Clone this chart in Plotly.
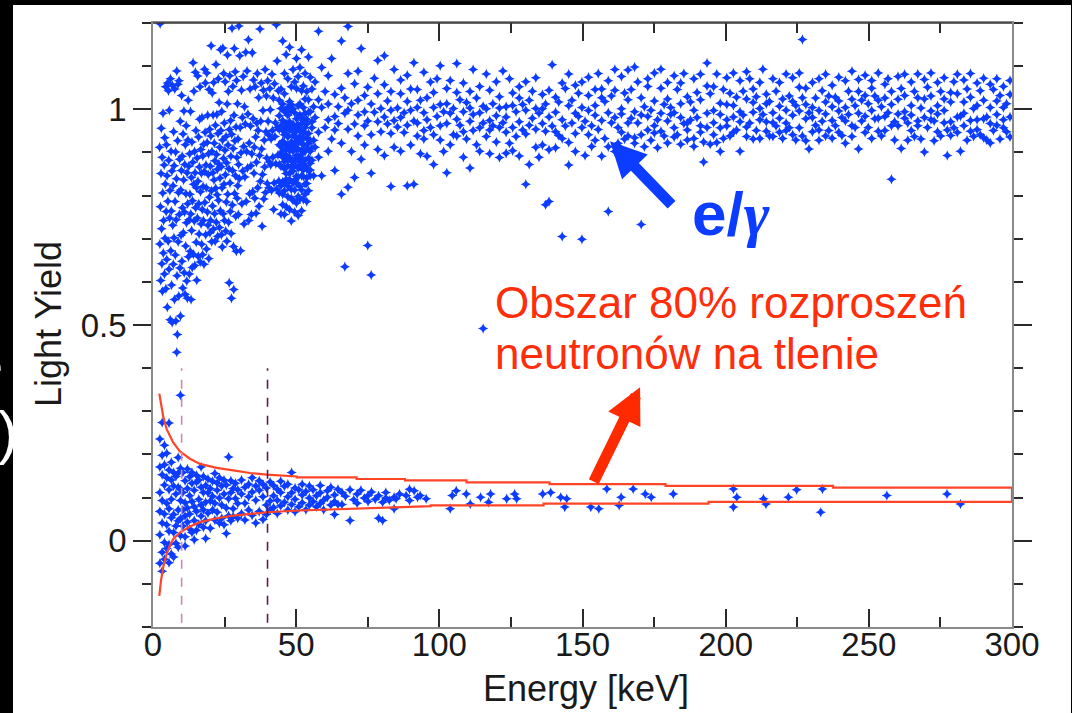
import plotly.graph_objects as go

# ---------------- data ----------------
# e/gamma events below 44 keV: (energy keV, light yield)
eg_low_pts = [
    (2.3, .912), (2.4, .688), (2.5, 1.198), (2.6, .774), (2.7, .603), (2.8, .851), (2.9, .956),
    (3.0, .723), (3.1, .642), (3.2, .889), (3.3, .578), (3.4, .806), (3.5, .991), (3.6, .667),
    (3.7, .742), (3.9, .871), (4.0, .618), (4.1, .934), (4.2, .701), (4.3, .827), (4.4, 1.052),
    (4.5, .584), (4.6, .763), (4.7, .918), (4.8, .652), (4.9, .846), (5.0, .541), (5.1, 1.061),
    (5.2, .787), (5.3, .694), (5.4, 1.043), (5.5, .882), (5.6, .629), (5.7, .998), (5.8, .748),
    (5.9, .812), (6.0, .512), (6.1, 1.071), (6.2, .672), (6.3, .903), (6.4, .764), (6.5, .593),
    (6.6, .857), (6.7, .506), (6.8, 1.055), (6.9, .731), (7.0, .823), (7.1, .641), (7.2, .948),
    (7.3, .702), (7.4, .869), (7.5, .559), (7.6, 1.047), (7.7, .786), (7.8, .662), (7.9, .901),
    (8.0, .509), (8.1, .744), (8.2, .839), (8.3, 1.089), (8.4, .614), (8.5, .478), (8.6, .927),
    (8.7, 1.058), (8.8, .693), (8.9, .807), (9.0, .567), (9.1, 1.066), (9.2, .756), (9.3, .884),
    (9.4, .632), (9.5, .972), (9.6, .521), (9.7, .813), (9.8, .708), (9.9, .858),
    (10.0, 1.032), (10.1, .648), (10.2, .891), (10.3, .772), (10.4, .586), (10.5, .943),
    (10.6, .714), (10.7, .836), (10.8, .996), (10.9, .621), (11.0, .762), (11.1, .872),
    (11.2, .571), (11.3, .918), (11.4, .683), (11.5, .804), (11.6, .962), (11.7, .737),
    (11.8, .602), (11.9, .853), (12.0, .562), (12.1, .781), (12.2, .929), (12.3, 1.021),
    (12.4, .658), (12.5, .868), (12.6, .744), (12.7, .618), (12.8, .897), (12.9, .803),
    (13.0, .671), (13.1, .995), (13.2, .757), (13.3, .559), (13.4, .842), (13.5, .719),
    (13.6, .924), (13.7, .633), (13.8, .788), (13.9, .877), (14.0, 1.108), (14.1, .664),
    (14.2, .826), (14.3, 1.042), (14.4, .741), (14.5, .902), (14.6, .638), (14.7, .853),
    (14.8, 1.086), (14.9, .772), (15.0, .951), (15.1, .692), (15.2, .818), (15.3, .604),
    (15.4, .887), (15.5, .748), (15.6, 1.077), (15.7, .833), (15.8, .659), (15.9, .936),
    (16.0, .781), (16.1, .711), (16.2, .866), (16.3, .977), (16.4, 1.052), (16.5, .646),
    (16.6, .809), (16.7, .907), (16.8, .734), (16.9, .852), (17.0, .687), (17.1, .981),
    (17.2, .768), (17.3, .663), (17.4, .892), (17.5, .821), (17.6, .742), (17.7, .919),
    (17.8, .641), (17.9, .856), (18.0, 1.093), (18.1, .784), (18.2, .947), (18.3, 1.061),
    (18.4, .709), (18.5, .871), (18.6, .818), (18.7, .676), (18.8, 1.084), (18.9, .923),
    (19.0, .762), (19.1, .986), (19.2, .731), (19.3, .849), (19.4, .897), (19.5, .654),
    (19.6, 1.046), (19.7, .796), (19.8, .954), (19.9, .714),
    (20.0, .868), (20.1, .743), (20.2, .938), (20.3, 1.147), (20.4, .811), (20.5, .693),
    (20.6, .902), (20.7, 1.038), (20.8, .776), (20.9, .853), (21.0, .987), (21.1, .722),
    (21.2, 1.062), (21.3, .836), (21.4, .921), (21.5, .758), (21.6, .881), (21.7, .694),
    (21.8, .963), (21.9, .817), (22.0, 1.104), (22.1, .738), (22.2, .895), (22.3, .988),
    (22.4, .802), (22.5, .861), (22.6, .706), (22.7, .944), (22.8, 1.071), (22.9, .789),
    (23.0, .873), (23.1, 1.016), (23.2, .726), (23.3, .912), (23.4, .841), (23.5, .765),
    (23.6, 1.138), (23.7, .951), (23.8, .867), (23.9, .709), (24.0, .995), (24.1, .818),
    (24.2, .681), (24.3, .929), (24.4, 1.142), (24.5, .758), (24.6, .886), (24.7, 1.083),
    (24.8, .826), (24.9, .968), (25.0, .742), (25.1, .905), (25.2, 1.064), (25.3, .848),
    (25.4, .718), (25.5, .937), (25.6, .785), (25.7, .876), (25.8, .694), (25.9, 1.012),
    (26.0, 1.126), (26.1, .803), (26.2, .917), (26.3, 1.041), (26.4, .738), (26.5, .862),
    (26.6, .598), (26.7, .953), (26.8, 1.078), (26.9, .829), (27.0, .763), (27.1, .974),
    (27.2, .891), (27.3, .712), (27.4, .562), (27.5, .942), (27.6, 1.188), (27.7, .778),
    (27.8, .858), (27.9, 1.053), (28.0, .909), (28.1, .682), (28.2, .582), (28.3, .986),
    (28.4, 1.141), (28.5, .805), (28.6, .927), (28.7, 1.087), (28.8, .846), (28.9, .752),
    (29.0, .959), (29.1, .671), (29.2, 1.067), (29.3, .888), (29.4, .794), (29.5, 1.013),
    (29.6, .823), (29.7, .931), (29.8, .756), (29.9, .872),
    (30.0, 1.193), (30.15, .839), (30.3, 1.124), (30.45, .958), (30.6, .672), (30.75, .899),
    (30.9, 1.044), (31.05, .781), (31.2, .981), (31.35, .857), (31.5, 1.076), (31.65, .914),
    (31.8, .734), (31.95, 1.006), (32.1, .843), (32.25, .966), (32.4, 1.132), (32.55, .786),
    (32.7, .902), (32.85, 1.089), (33.0, .864), (33.15, .989), (33.3, 1.161), (33.45, .742),
    (33.6, .922), (33.75, .804), (33.9, 1.047), (34.05, .961), (34.2, .869), (34.35, .756),
    (34.5, .897), (34.65, 1.131), (34.8, .809), (34.95, .978), (35.1, 1.068), (35.25, .852),
    (35.4, .912), (35.55, .794), (35.7, 1.052), (35.85, .936), (36.0, .759), (36.15, .877),
    (36.3, .968), (36.45, 1.083), (36.6, .818), (36.75, .951), (36.9, 1.027), (37.05, .775),
    (37.2, .893), (37.35, 1.186), (37.5, .833), (37.65, .972), (37.8, 1.061), (37.95, .908),
    (38.1, .729), (38.25, .849), (38.4, .997), (38.55, 1.044), (38.7, .792), (38.85, .928),
    (39.0, .866), (39.15, 1.092), (39.3, .807), (39.45, .948), (39.6, 1.031), (39.75, .887),
    (39.9, .828), (40.05, 1.066), (40.2, .972), (40.35, .941), (40.5, .818), (40.65, .878),
    (40.8, 1.048), (40.95, .999), (41.1, .871), (41.25, .931), (41.4, .812), (41.55, 1.081),
    (41.7, .951), (41.85, .889), (42.0, 1.026), (42.15, .768), (42.3, .829), (42.45, 1.059),
    (42.6, .937), (42.75, .969), (42.9, .874), (43.05, 1.196), (43.2, .815), (43.35, 1.112),
    (43.5, .958), (43.65, .894), (43.8, 1.043), (43.95, .834),
]

# the dense e/gamma cluster around 50 keV: (energy keV, [light yields])
eg_peak = [
    (44.1, [.953, .872, 1.021, .918, .806, .985]),
    (44.7, [.897, 1.047, .823, .962, .868, 1.002, .757, .914]),
    (45.3, [.926, 1.158, .803, .951, .889, 1.012, .832, .903, .974, .779]),
    (45.9, [.862, .941, 1.083, .811, .996, .879, .921, .756, .957, 1.036]),
    (46.5, [.828, .908, .967, .851, 1.127, .894, .774, .943, .992, .838]),
    (47.1, [.915, 1.005, .869, .797, .958, 1.071, .884, .822, .936, .986]),
    (47.7, [.851, .911, 1.144, .768, .971, .889, 1.018, .837, .952, .904]),
    (48.3, [.741, .996, .866, .924, 1.052, .814, .958, .882, 1.011, .794]),
    (48.9, [.939, .857, 1.092, .903, .829, .966, .877, 1.001, .789, .918]),
    (49.5, [.946, .836, 1.063, .884, .958, .813, .923, .992, .762, .871]),
    (50.1, [.911, 1.118, .845, .978, .829, .951, .893, 1.048, .783, .934]),
    (50.7, [.864, 1.008, .924, .798, .964, .882, 1.076, .843, .907, .754]),
    (51.3, [.987, .867, .938, 1.012, .821, .953, .889, 1.097, .792, .926]),
    (51.9, [.874, .981, .846, 1.043, .905, .813, .967, .896, 1.138, .765]),
    (52.5, [.932, .859, 1.004, .918, .844, .974, .881, .791, 1.054, .946]),
    (53.1, [.902, .827, .991, .869, .946, 1.083, .803, .958, .882, 1.024]),
    (53.7, [.841, .933, .786, .977, .862, 1.041, .909, .828, .966]),
    (54.3, [.921, 1.121, .858, .993, .811, .944, .887, 1.022]),
    (54.9, [.903, .846, 1.074, .928, .875, .994, .859]),
    (55.5, [.882, .957, 1.047, .911, .971]),
    (56.1, [.928, 1.006, .846]),
]

# e/gamma band above 56 keV: (energy keV, [light yields])
eg_band = [
    (56.6, [.981, 1.063, .912]), (57.8, [1.181, .947, 1.022, .889]),
    (58.9, [1.004, .846, 1.097]), (60.1, [.958, 1.041]),
    (61.2, [1.012, .903, .976, 1.078]), (62.4, [.931, 1.118]),
    (63.5, [1.034, .983, .858, .952]), (64.7, [.967, 1.006]),
    (65.8, [1.158, .803, .921, 1.049]), (67.0, [.991, .635, 1.027]),
    (68.1, [1.192, .954, .819, 1.083, .998]), (69.3, [.902, 1.013]),
    (70.4, [1.059, .966, .842]), (71.6, [.987, 1.088, .938, 1.021]),
    (72.7, [1.141, .884]), (73.9, [.962, 1.032, .917, .994]),
    (75.0, [1.051, .684, .973]), (76.2, [.852, 1.012, .616, .941]),
    (77.3, [1.072, .993]), (78.5, [.907, 1.113, .971, 1.036]),
    (79.6, [.948, 1.002]), (80.8, [1.124, .893, .982, 1.057]),
    (81.9, [.966, 1.019]), (83.1, [.821, 1.041, .944, .998]),
    (84.2, [.974, 1.092, .912]), (85.4, [1.003, .959]),
    (86.5, [.903, 1.036, .981, 1.068]), (87.7, [.946, .992]),
    (88.8, [.823, 1.018, .963, 1.079]), (90.0, [.917, .998, 1.047]),
    (91.1, [1.108, .826, .973]), (92.3, [1.004, .938, 1.046, .968]),
    (93.4, [.897, 1.021]), (94.6, [.951, 1.086, .992, .931]),
    (95.7, [1.027, .891, .976]), (96.9, [.958, 1.063]),
    (98.0, [.872, 1.004, .941, 1.039]), (99.2, [.983, 1.071]),
    (100.3, [1.101, .929, 1.011, .962]), (101.5, [.902, .994]),
    (102.6, [.853, 1.048, .967, 1.013]), (103.8, [.918, 1.067, .991]),
    (104.9, [.941, 1.002]), (106.1, [1.106, .977, .938, 1.039]),
    (107.2, [.963, 1.022]), (108.4, [.889, .994, 1.061, .948]),
    (109.5, [1.016, .931]), (110.7, [.864, 1.041, .972, 1.003]),
    (111.8, [1.092, .951, .988]), (113.0, [.918, 1.026]),
    (114.1, [.957, 1.053, .992, .903]), (115.3, [.492, 1.007, .968]),
    (116.4, [1.082, .937, 1.001]), (117.6, [.974, .897, 1.044, .952]),
    (118.7, [1.013, .962]), (119.9, [.924, 1.064, .985]),
    (121.0, [1.029, .888, .958, 1.003]), (122.2, [.969, 1.089]),
    (123.3, [.947, 1.006, .898, .982]), (124.5, [1.071, .921]),
    (125.6, [.958, 1.009, .904, 1.038]), (126.8, [.994, .937]),
    (127.9, [1.026, .892, .971, 1.052]), (129.1, [.952, 1.011]),
    (130.2, [.826, .998, 1.064, .943]), (131.4, [1.021, .872, .963]),
    (132.5, [.979, 1.042]), (133.7, [.912, 1.002, .954, 1.073]),
    (134.8, [.991, .889]), (136.0, [1.034, .967, .917, 1.001]),
    (137.1, [.779, .949, 1.012]), (138.3, [.906, .786, 1.044, .982]),
    (139.4, [1.103, .961]), (140.6, [.993, 1.028, .911, .948]),
    (141.7, [1.017, .939]), (142.9, [.705, .976, 1.061, .932]),
    (144.0, [.961, 1.048]), (145.2, [.871, 1.008, .923, 1.082]),
    (146.3, [.968, 1.021]), (147.5, [.944, 1.056, .991, .902]),
    (148.6, [1.037, .983]), (149.8, [.699, .958, 1.063, 1.004]),
    (150.9, [.893, .972]), (152.1, [1.074, .941, .997, 1.032]),
    (153.2, [.914, .962]), (154.4, [1.009, .928, 1.046, .986]),
    (155.5, [.953, 1.083]), (156.7, [.891, 1.027, .974, 1.047]),
    (157.8, [.932, 1.018]), (159.0, [.763, .992, 1.066, .913]),
    (160.1, [.969, 1.031]), (161.3, [1.092, .902, .981, 1.044]),
    (162.4, [.958, .921]), (163.6, [1.001, 1.076, .947, .989]),
    (164.7, [.931, 1.038]), (165.9, [.968, 1.091, 1.022, .938]),
    (167.0, [1.046, .979]), (168.2, [.934, 1.098, .994, .921]),
    (169.3, [1.063, .968]), (170.5, [.941, .733, 1.027, .987]),
    (171.6, [1.006, .913]), (172.8, [.952, 1.053, .983, 1.071]),
    (173.9, [.928, .998]), (175.1, [1.084, .962, 1.019, .945]),
    (176.2, [.911, .976]), (177.4, [1.049, .991, 1.093, .949]),
    (178.5, [1.011, .938]), (179.7, [.973, 1.062, .922, 1.024]),
    (180.8, [.988, 1.004]), (182.0, [.957, 1.078, .936, .992]),
    (183.1, [1.046, .941]), (184.3, [.981, 1.061, .919, 1.013]),
    (185.4, [.967, 1.083]), (186.6, [.929, .968, 1.029, .952]),
    (187.7, [1.017, .975]), (188.9, [.932, 1.071, .998, .914]),
    (190.0, [1.039, .981]), (191.2, [.947, 1.081, 1.022, .962]),
    (192.3, [.878, .924]), (193.5, [1.054, .991, .958, 1.107]),
    (194.6, [1.036, .919]), (195.8, [.997, .941, 1.052, .969]),
    (196.9, [.923, 1.082]), (198.1, [1.014, .957, .902, .988]),
    (199.2, [1.046, .932]), (200.4, [1.073, .961, 1.011, .976]),
    (201.5, [1.037, .938]), (202.7, [.982, 1.084, .947, 1.009]),
    (203.8, [1.028, .952]), (205.0, [.971, 1.066, .903, .994]),
    (206.1, [1.042, .987]), (207.3, [.937, 1.087, 1.024, .959]),
    (208.4, [1.071, .968]), (209.6, [1.016, .931, .993, 1.047]),
    (210.7, [.951, 1.029]), (211.9, [1.062, .976, .932, 1.002]),
    (213.0, [.988, 1.093]), (214.2, [.949, 1.035, .971, 1.013]),
    (215.3, [.938, 1.018]), (216.5, [.969, 1.071, .992, .937]),
    (217.6, [1.042, .961]), (218.8, [1.007, .947, 1.062, .979]),
    (219.9, [1.024, .932]), (221.1, [.968, 1.082, .998, .951]),
    (222.2, [1.031, .957]), (223.4, [.941, 1.073, 1.018, .986]),
    (224.5, [.929, 1.009]), (225.7, [1.051, .957, .996, 1.084]),
    (226.8, [1.162, .938, 1.027]), (228.0, [.978, .927, 1.049, 1.011]),
    (229.1, [.908, .992]), (230.3, [1.062, 1.004, .948, .981]),
    (231.4, [1.026, .963]), (232.6, [.928, 1.071, .997, .952]),
    (233.7, [1.043, .972]), (234.9, [1.017, .938, 1.081, .989]),
    (236.0, [.951, 1.031]), (237.2, [.974, 1.056, .933, 1.006]),
    (238.3, [1.028, .962]), (239.5, [.947, .996, 1.074, 1.019]),
    (240.6, [.939, .981]), (241.8, [1.066, .921, 1.004, .973]),
    (242.9, [1.042, .988]), (244.1, [.937, 1.088, .962, 1.023]),
    (245.2, [1.008, .958]), (246.4, [.908, 1.041, .991, 1.069]),
    (247.5, [.973, 1.021]), (248.7, [.946, 1.079, .984, 1.032]),
    (249.8, [1.013, .958]), (251.0, [.932, 1.049, .997, 1.067]),
    (252.1, [.978, 1.031]), (253.3, [1.084, .949, 1.021, .979]),
    (254.4, [.938, 1.006]), (255.6, [1.058, .983, .951, 1.026]),
    (256.7, [.992, 1.071]), (257.9, [.838, 1.011, .962, 1.041]),
    (259.0, [.929, .971]), (260.2, [1.023, 1.076, .962, .989]),
    (261.3, [.909, 1.048]), (262.5, [.979, 1.032, .994, 1.081]),
    (263.6, [.928, .968]), (264.8, [1.009, 1.063, .951, .987]),
    (265.9, [1.041, .937]), (267.1, [.973, 1.082, 1.027, .962]),
    (268.2, [.931, 1.003]), (269.4, [.901, 1.069, .981, 1.024]),
    (270.5, [.958, 1.051]), (271.7, [.996, .976, 1.084, 1.031]),
    (272.8, [.927, .973]), (274.0, [1.062, 1.008, .948, .989]),
    (275.1, [1.041, .938]), (276.3, [.969, 1.024, 1.073, .997]),
    (277.4, [.893, .952]), (278.6, [1.017, .971, 1.039, .939]),
    (279.7, [1.064, .957]), (280.9, [.982, 1.036, .946, 1.081]),
    (282.0, [.903, .984]), (283.2, [1.017, .962, 1.068, .991]),
    (284.3, [.928, 1.047]), (285.5, [.974, 1.083, 1.028, .949]),
    (286.6, [.937, 1.002]), (287.8, [1.061, .953, 1.009, .976]),
    (288.9, [.941, 1.043]), (290.1, [.978, 1.021, 1.072, .934]),
    (291.2, [.929, .982]), (292.4, [1.058, .922, 1.004, .967]),
    (293.5, [1.046, .951]), (294.7, [.963, 1.019, 1.071, .988]),
    (295.8, [.931, 1.032]), (297.0, [.957, 1.053, 1.004, .976]),
    (298.1, [.948, 1.013]), (299.3, [.936, 1.034, .982, 1.067]),
]

# neutron (oxygen recoil) events: (energy keV, [light yields])
n_dense = [
    (2.4, [.236, .112, .014, -.052, .171, .068]),
    (3.2, [.274, .093, -.027, .153, .041, -.071, .198]),
    (4.0, [.129, -.004, .221, .062, -.043, .176]),
    (4.8, [.087, .146, -.018, .037, .203]),
    (5.6, [.273, .022, .118, -.051, .164, .074, -.009]),
    (6.4, [.141, .053, -.031, .096, .182]),
    (7.2, [.019, .127, .061, -.038, .158]),
    (8.0, [.108, .034, .149, -.006]),
    (8.3, [.437]),
    (8.8, [.193, .071, -.015, .124, .046, .157]),
    (9.6, [.337, .093, .012, .168, .051, .119]),
    (10.4, [.112, .034, .158, .071]),
    (11.2, [.009, .139, -.012, .088, .057]),
    (12.0, [.121, .166, .043, .076]),
    (12.8, [.027, .148, .104, .062]),
    (13.6, [.091, .019, .133, .158]),
    (14.4, [.047, .117, .002, .079]),
    (15.2, [.136, .068, .152, .024]),
    (16.0, [.096, .141, .038]),
    (16.8, [.057, .124, .171, .083]),
    (17.6, [.112, .031, .149, .072]),
    (18.4, [.089, .005, .128, .046]),
    (19.2, [.064, .143, .111]),
    (20.0, [.029, .121, .092]),
    (20.8, [.138, .071, .103]),
    (21.6, [.048, .156, .087]),
    (22.4, [.117, .066, .134]),
    (23.2, [.041, .099, .146]),
    (24.0, [.083, .127, .052]),
    (24.8, [.108, .037, .141]),
    (25.6, [.017, .076, .129]),
    (26.4, [.194, .097, .058]),
    (27.2, [.112, .046, .139]),
    (28.0, [.074, .121, .056]),
    (28.8, [.098, .133]),
    (29.6, [.052, .118, .086]),
    (30.9, [.108, .063, .141]), (32.1, [.087, .124, .048]),
    (33.4, [.131, .071, .102]), (34.6, [.059, .113, .146]),
    (35.9, [.094, .041, .127]), (37.1, [.117, .068, .139]),
    (38.4, [.049, .102, .131]), (39.6, [.083, .122, .061]),
    (40.9, [.136, .092, .071]), (42.1, [.104, .077, .128]),
    (43.4, [.063, .119, .094]), (44.6, [.112, .138, .081]),
    (45.9, [.089, .126]), (47.1, [.102, .071, .131]),
    (48.4, [.158, .084, .111]), (49.6, [.096, .122, .067]),
    (50.9, [.079, .118]), (52.1, [.106, .131, .088]),
    (53.4, [.072, .114]), (54.6, [.099, .127, .083]),
    (55.9, [.118, .091]), (57.1, [.104, .079]),
    (58.4, [.128, .086, .111]), (59.6, [.094, .072]),
    (60.9, [.116, .101]), (62.1, [.083, .124]),
    (63.4, [.061, .106, .091]), (64.6, [.119, .084]),
]

n_sparse = [
    (66.0, [.112, .084]), (67.2, [.103]), (68.8, [.118, .047]), (70.1, [.095]),
    (71.3, [.108, .087]), (72.6, [.117]), (73.8, [.099]), (75.1, [.091, .105]),
    (76.3, [.113]), (77.6, [.096]), (78.8, [.104, .052]), (80.2, [.047, .089]),
    (81.3, [.112, .099]), (82.5, [.094]), (84.2, [.074, .101]), (84.9, [.097]),
    (86.1, [.108]), (88.4, [.105]), (89.6, [.119, .093]), (91.2, [.116]),
    (92.4, [.101]), (93.3, [.105]), (95.4, [.097]), (103.8, [.074]),
    (104.5, [.105]), (105.9, [.116]), (109.4, [.108]), (110.8, [.085]),
    (114.4, [.101]), (117.2, [.089]), (117.9, [.108]), (123.5, [.097]),
    (126.3, [.108]), (127.0, [.097]), (136.1, [.108]), (138.9, [.112]),
    (142.4, [.101]), (143.8, [.078]), (144.5, [.097]), (152.9, [.078]),
    (155.7, [.074]), (158.5, [.120]), (162.8, [.082]), (163.5, [.101]),
    (167.7, [.120]), (171.9, [.108]), (174.0, [.101]), (181.7, [.108]),
    (202.7, [.120, .078]), (203.9, [.101]), (213.2, [.097]), (214.1, [.085]),
    (221.9, [.101]), (224.8, [.118]), (233.2, [.066]), (233.8, [.120]),
    (256.3, [.105]), (277.3, [.108]), (282.0, [.085]),
]

# boundaries of the 80% oxygen-recoil acceptance region
upper_energy = [2.2, 3.6, 4.8, 7.1, 9.4, 12.9, 16.4, 22.2, 28.0, 33.9, 39.7, 50.2, 50.2,
                71.1, 71.1, 88.0, 88.0, 109.5, 109.5, 138.5, 138.5, 179.0, 179.0,
                237.5, 237.5, 300.0, 300.0]
upper_yield = [0.341, 0.287, 0.258, 0.227, 0.207, 0.190, 0.178, 0.169, 0.163, 0.157, 0.153,
               0.149, 0.147, 0.147, 0.143, 0.143, 0.140, 0.140, 0.135, 0.135, 0.131,
               0.131, 0.127, 0.127, 0.123, 0.123, 0.090]
lower_energy = [2.2, 2.8, 3.6, 4.8, 6.0, 7.1, 9.4, 12.9, 16.4, 22.2, 28.0, 33.9, 39.7,
                51.3, 68.8, 86.3, 97.0, 97.0, 136.4, 136.4, 194.0, 194.0, 300.0]
lower_yield = [-0.128, -0.092, -0.060, -0.030, -0.010, 0.004, 0.019, 0.033, 0.043, 0.052,
               0.058, 0.062, 0.066, 0.070, 0.074, 0.079, 0.080, 0.082, 0.082, 0.086,
               0.086, 0.090, 0.090]

threshold_energy = [10, 40]
threshold_colors = ["#c98bb3", "#5e1d4f"]
threshold_span = [-0.19, 0.40]

x_range = [0, 300]
y_range = [-0.2, 1.2]

BLUE = "#0c3cff"
RED = "#ff2d0a"
CURVE = "#ff4527"
FONT = "Liberation Sans, Arial, Helvetica, sans-serif"


def expand(columns):
    xs, ys = [], []
    for energy, vals in columns:
        for v in vals:
            xs.append(energy)
            ys.append(v)
    return xs, ys


peak_x, peak_y = expand(eg_peak + eg_band)
eg_x = [p[0] for p in eg_low_pts] + peak_x
eg_y = [p[1] for p in eg_low_pts] + peak_y
n_x, n_y = expand(n_dense + n_sparse)

fig = go.Figure()
marker = dict(symbol="star-diamond", size=7.5, color=BLUE, line=dict(width=0))
fig.add_trace(go.Scatter(x=eg_x, y=eg_y, mode="markers", marker=marker, name="e/gamma"))
fig.add_trace(go.Scatter(x=n_x, y=n_y, mode="markers", marker=marker, name="neutrons"))
fig.add_trace(go.Scatter(x=upper_energy, y=upper_yield, mode="lines",
                         line=dict(color=CURVE, width=2.2), name="upper"))
fig.add_trace(go.Scatter(x=lower_energy, y=lower_yield, mode="lines",
                         line=dict(color=CURVE, width=2.2), name="lower"))

shapes = []
for e, c in zip(threshold_energy, threshold_colors):
    shapes.append(dict(type="line", xref="x", yref="y", x0=e, x1=e,
                       y0=threshold_span[0], y1=threshold_span[1],
                       line=dict(color=c, width=1.6, dash="dash")))

W, H = 1072, 713
L, R, T, B = 153, 60, 23, 86
PW, PH = W - L - R, H - T - B


def xp(px):
    return (px - L) / PW


def yp(py):
    return (H - B - py) / PH


# darker top frame line
shapes.append(dict(type="line", xref="paper", yref="paper", x0=0, x1=1, y0=1, y1=1,
                   line=dict(color="#333333", width=1.6)))
# black surround of the original slide
for (a, b, c, d) in [(0, 13, 0, H), (0, W, 0, 5), (W - 1, W, 0, H)]:
    shapes.append(dict(type="rect", xref="paper", yref="paper",
                       x0=xp(a), x1=xp(b), y0=yp(d), y1=yp(c),
                       fillcolor="black", line=dict(width=0), layer="above"))

annotations = [
    dict(text="Energy [keV]", xref="paper", yref="paper", x=xp(586), y=yp(688),
         showarrow=False, font=dict(size=36, family=FONT, color="#1a1a1a"),
         xanchor="center", yanchor="middle"),
    dict(text="Light Yield", xref="paper", yref="paper", x=xp(48), y=yp(324),
         showarrow=False, textangle=-90, font=dict(size=36, family=FONT, color="#1a1a1a"),
         xanchor="center", yanchor="middle"),
    dict(text="<b>e/<i><span style=\"font-family:'Liberation Serif'\">γ</span></i></b>",
         xref="paper", yref="paper", x=xp(731), y=yp(213),
         showarrow=False, font=dict(size=62, family=FONT, color=BLUE),
         xanchor="center", yanchor="middle"),
    dict(text="Obszar 80% rozproszeń", xref="paper", yref="paper", x=xp(493), y=yp(302),
         showarrow=False, font=dict(size=44, family=FONT, color=RED),
         xanchor="left", yanchor="middle"),
    dict(text="neutronów na tlenie", xref="paper", yref="paper", x=xp(493), y=yp(353),
         showarrow=False, font=dict(size=44, family=FONT, color=RED),
         xanchor="left", yanchor="middle"),
    # arrows
    dict(text="", x=159.6, y=0.926, xref="x", yref="y", ax=63, ay=65,
         showarrow=True, arrowhead=2, arrowsize=0.65, arrowwidth=11, arrowcolor=BLUE),
    dict(text="", x=170.1, y=0.356, xref="x", yref="y", ax=-47, ay=96,
         showarrow=True, arrowhead=2, arrowsize=0.65, arrowwidth=11, arrowcolor="#ff2a00"),
    # fragments of slide text cut off at the left edge
    dict(text="e", xref="paper", yref="paper", x=xp(-12), y=yp(365), showarrow=False,
         font=dict(size=54, family=FONT, color="white"), xanchor="center", yanchor="middle"),
    dict(text=")", xref="paper", yref="paper", x=xp(8), y=yp(432), showarrow=False,
         font=dict(size=60, family=FONT, color="white"), xanchor="center", yanchor="middle"),
]

axis_common = dict(showgrid=False, zeroline=False, showline=True, linecolor="#8a8a8a",
                   linewidth=1.5, mirror="ticks", tickwidth=1.5, tickcolor="#2a2a2a",
                   tickfont=dict(size=33, family=FONT, color="#1a1a1a"))

fig.update_xaxes(range=x_range, tickmode="linear", tick0=0, dtick=50, ticks="inside",
                 ticklen=18, ticklabelstandoff=-12,
                 minor=dict(tick0=0, dtick=25, ticks="inside", ticklen=10, tickwidth=1.5,
                            tickcolor="#2a2a2a", showgrid=False),
                 **axis_common)
fig.update_yaxes(range=y_range, tickmode="linear", tick0=0, dtick=0.5, ticks="outside",
                 ticklen=18,
                 minor=dict(tick0=0, dtick=0.1, ticks="outside", ticklen=9, tickwidth=1.5,
                            tickcolor="#2a2a2a", showgrid=False),
                 **axis_common)

fig.update_layout(width=W, height=H, margin=dict(l=L, r=R, t=T, b=B),
                  paper_bgcolor="white", plot_bgcolor="white", showlegend=False,
                  font=dict(family=FONT, color="#1a1a1a"),
                  shapes=shapes, annotations=annotations)

fig.write_html("out.html")
